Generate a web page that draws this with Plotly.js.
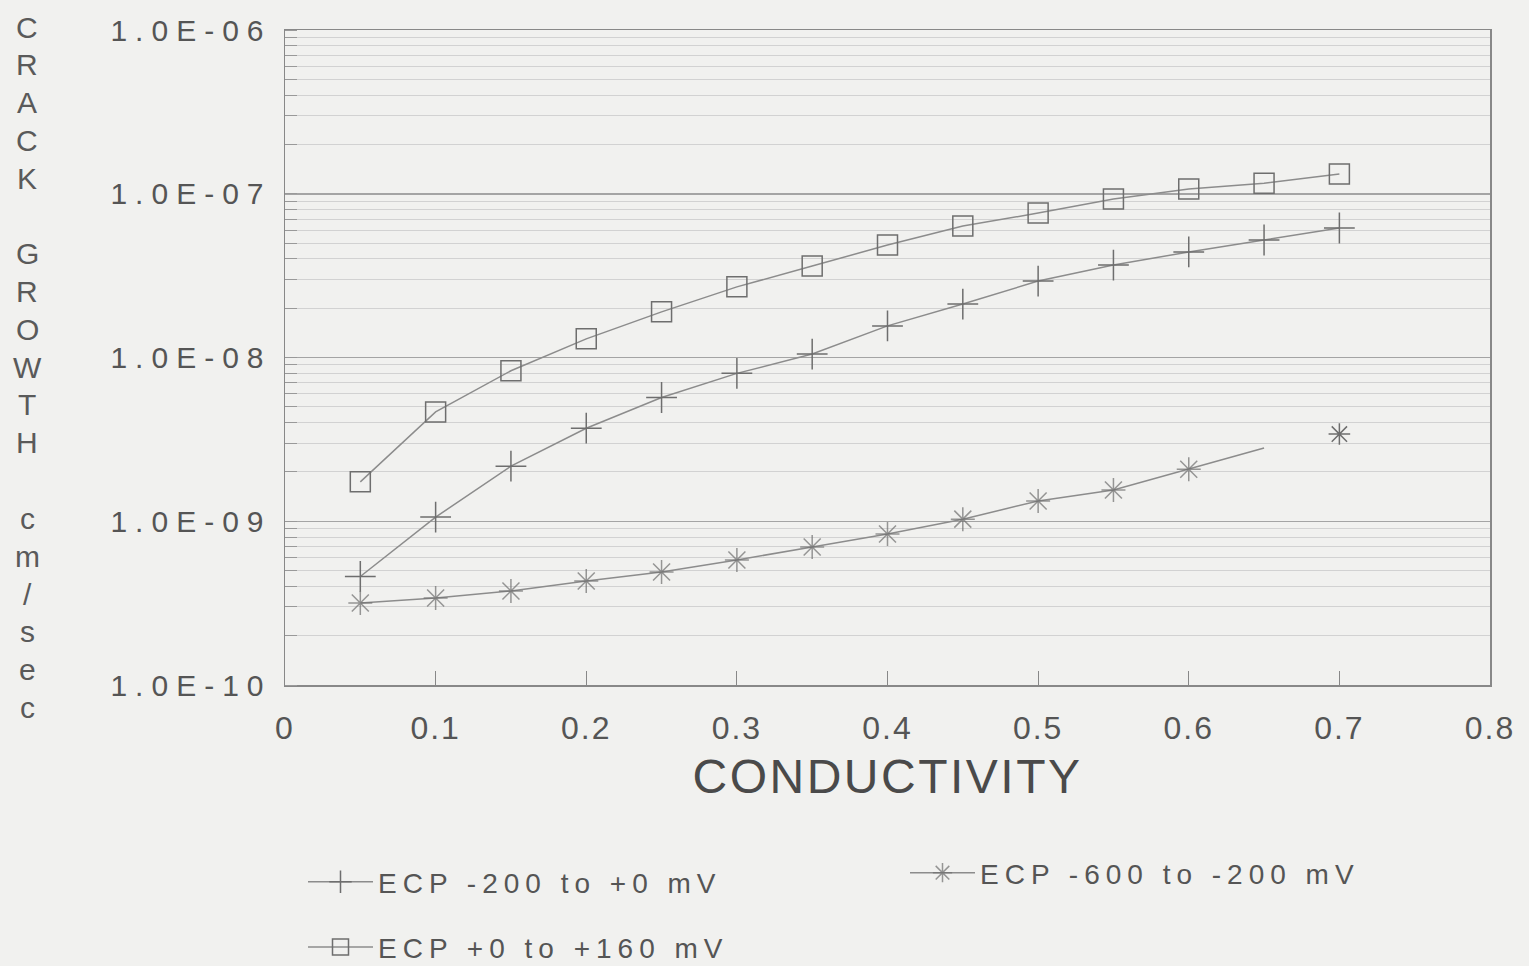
<!DOCTYPE html>
<html>
<head>
<meta charset="utf-8">
<script src="https://cdn.plot.ly/plotly-3.0.1.min.js"></script>
<style>
html,body{margin:0;padding:0;background:#f1f1ef;}
#chart{width:1529px;height:966px;}
.ytick text{letter-spacing:8px;}
.xtick text{letter-spacing:2px;}
text.legendtext{letter-spacing:6px;}
.xtitle{letter-spacing:2.5px;}
</style>
</head>
<body>
<div id="chart"></div>
<script>
// Conductivity values (x)
const conductivity = [0.05,0.1,0.15,0.2,0.25,0.3,0.35,0.4,0.45,0.5,0.55,0.6,0.65,0.7];
// ECP -200 to +0 mV (plus markers)
const ecpMinus200to0 = [4.6e-10,1.06e-9,2.17e-9,3.7e-9,5.7e-9,8.0e-9,1.05e-8,1.56e-8,2.12e-8,2.93e-8,3.67e-8,4.41e-8,5.22e-8,6.18e-8];
// ECP +0 to +160 mV (square markers)
const ecp0to160 = [1.74e-9,4.65e-9,8.3e-9,1.3e-8,1.9e-8,2.7e-8,3.62e-8,4.86e-8,6.35e-8,7.62e-8,9.3e-8,1.07e-7,1.16e-7,1.32e-7];
// ECP -600 to -200 mV (asterisk markers)
const ecpMinus600toMinus200 = [3.17e-10,3.4e-10,3.75e-10,4.32e-10,4.9e-10,5.8e-10,6.97e-10,8.36e-10,1.03e-9,1.33e-9,1.55e-9,2.08e-9,2.8e-9,3.41e-9];

const seriesNames = ["ECP -200 to +0 mV","ECP +0 to +160 mV","ECP -600 to -200 mV"];
const yTickVals = [1e-10,1e-9,1e-8,1e-7,1e-6];
const yTickText = ["1.0E-10","1.0E-09","1.0E-08","1.0E-07","1.0E-06"];
const xTickVals = [0,0.1,0.2,0.3,0.4,0.5,0.6,0.7,0.8];
const xTickText = ["0","0.1","0.2","0.3","0.4","0.5","0.6","0.7","0.8"];
const yTitleLetters = ["C","R","A","C","K","","G","R","O","W","T","H","","c","m","/","s","e","c"];

const lineCol = "#8c8c8c";
const markCol = "#6e6e6e";
const txtCol = "#555555";
const FONT = "Liberation Sans, Arial, sans-serif";

// plot area geometry (px) used to place the stacked y title letters
const PL = 285, PR = 39, PT = 30, PB = 281, W = 1529, H = 966;
const plotH = H - PT - PB, plotW = W - PL - PR;

const nStar = conductivity.length - 1;
const traces = [
  {
    x: conductivity, y: ecpMinus200to0, name: seriesNames[0],
    mode: "lines+markers", legend: "legend", legendgroup: "a",
    line: {color: lineCol, width: 1.5},
    marker: {symbol: "cross-thin-open", size: 22, color: markCol, line: {color: markCol, width: 1.5}}
  },
  {
    x: conductivity.slice(0, nStar), y: ecpMinus600toMinus200.slice(0, nStar), name: seriesNames[2],
    mode: "lines+markers", legend: "legend2", legendgroup: "c",
    line: {color: lineCol, width: 1.5},
    marker: {symbol: "asterisk-open", size: conductivity.slice(0, nStar).map((v,i)=> i === nStar-1 ? 0 : 20),
             color: markCol, line: {color: markCol, width: 1.5}}
  },
  {
    x: conductivity.slice(nStar), y: ecpMinus600toMinus200.slice(nStar), name: seriesNames[2],
    mode: "markers", showlegend: false,
    marker: {symbol: "asterisk-open", size: 18, color: markCol, line: {color: markCol, width: 1.5}}
  },
  {
    x: conductivity, y: ecp0to160, name: seriesNames[1],
    mode: "lines+markers", legend: "legend", legendgroup: "b",
    line: {color: lineCol, width: 1.5},
    marker: {symbol: "square-open", size: 20, color: markCol, line: {color: markCol, width: 1.5}}
  }
];

const letterAnnotations = yTitleLetters.map((ch, i) => ({
  xref: "paper", yref: "paper",
  x: (27 - PL) / plotW, y: (PT + plotH - (27 + i * 37.8)) / plotH,
  xanchor: "center", yanchor: "middle", showarrow: false,
  text: ch === "" ? " " : ch,
  font: {size: 30, color: "#5a5a5a", family: FONT}
}));

const layout = {
  width: W, height: H,
  paper_bgcolor: "#f1f1ef", plot_bgcolor: "#f1f1ef",
  margin: {l: PL, r: PR, t: PT, b: PB, autoexpand: false},
  font: {family: FONT, color: txtCol},
  xaxis: {
    range: [0, 0.8], tickvals: xTickVals, ticktext: xTickText,
    showgrid: false, zeroline: false, automargin: false,
    showline: true, linecolor: "#888", linewidth: 1.5, mirror: true,
    ticks: "inside", ticklen: 14, tickcolor: "#888", tickwidth: 1,
    tickfont: {size: 32, color: txtCol, family: FONT},
    ticklabelstandoff: 14,
    title: {text: "CONDUCTIVITY", font: {size: 48, color: "#4a4a4a", family: FONT}, standoff: 14}
  },
  yaxis: {
    type: "log", range: [-10, -6], automargin: false,
    tickvals: yTickVals, ticktext: yTickText,
    showgrid: true, gridcolor: "#a4a4a4", gridwidth: 1.5,
    zeroline: false,
    showline: true, linecolor: "#888", linewidth: 1.5, mirror: true,
    ticks: "",
    tickfont: {size: 30, color: txtCol, family: FONT},
    ticklabelstandoff: 6,
    minor: {showgrid: true, gridcolor: "#d2d2d2", gridwidth: 1, ticks: "inside", ticklen: 12, tickcolor: "#999", dtick: "D1"}
  },
  showlegend: true,
  legend: {
    orientation: "v", x: (303 - PL) / plotW, y: (PT + plotH - 857) / plotH, xanchor: "left", yanchor: "top",
    bgcolor: "rgba(0,0,0,0)", font: {size: 28, color: txtCol, family: FONT},
    tracegroupgap: 26, itemwidth: 65, traceorder: "grouped"
  },
  legend2: {
    orientation: "v", x: (905 - PL) / plotW, y: (PT + plotH - 848) / plotH, xanchor: "left", yanchor: "top",
    bgcolor: "rgba(0,0,0,0)", font: {size: 28, color: txtCol, family: FONT},
    itemwidth: 65
  },
  annotations: letterAnnotations
};

Plotly.newPlot("chart", traces, layout, {displayModeBar: false, staticPlot: true}).then(gd => {
  // apply the same letter spacing to every legend's text and avoid clipping
  gd.querySelectorAll('[class^="legend"] text').forEach(t => { t.style.letterSpacing = "6px"; });
  gd.querySelectorAll('[class^="legend"], [class^="legend"] .scrollbox').forEach(g => g.removeAttribute("clip-path"));
});
</script>
</body>
</html>
